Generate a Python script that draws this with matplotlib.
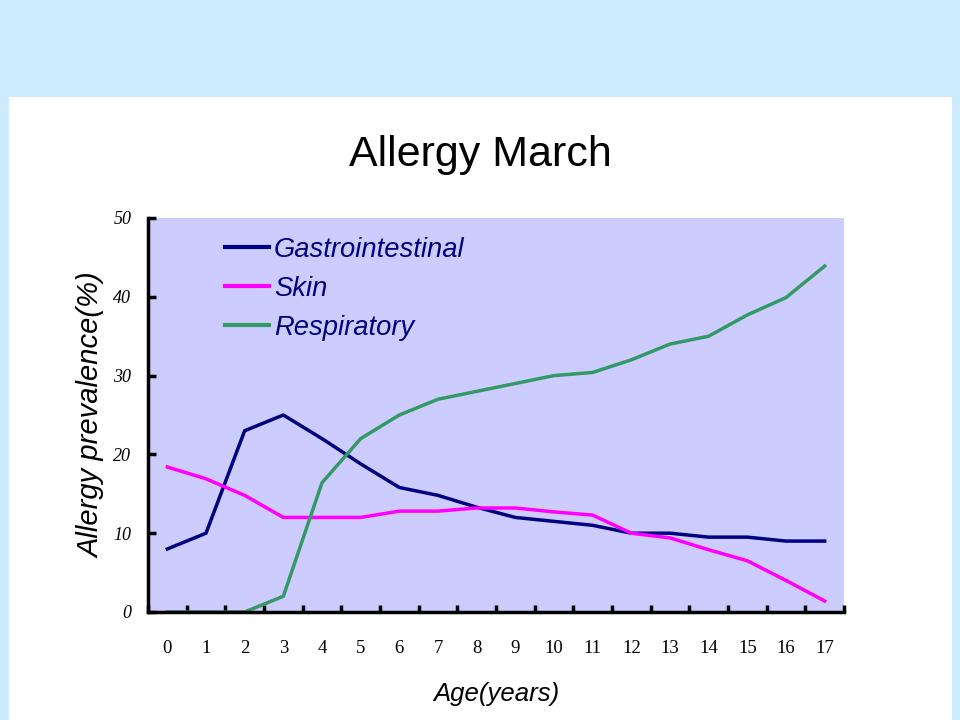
import matplotlib
matplotlib.use("Agg")
import matplotlib.pyplot as plt

ages = list(range(18))
age_labels = [str(a) for a in ages]
gastro = [8.0, 10.0, 23.0, 25.0, 22.0, 18.8, 15.8, 14.8, 13.3, 12.0, 11.5, 11.0, 10.0, 10.0, 9.5, 9.5, 9.0, 9.0]
skin = [18.4, 16.9, 14.8, 12.0, 12.0, 12.0, 12.8, 12.8, 13.2, 13.2, 12.7, 12.3, 10.0, 9.4, 7.9, 6.5, 4.0, 1.4]
resp = [0.0, 0.0, 0.0, 2.0, 16.4, 22.0, 25.0, 27.0, 28.0, 29.0, 30.0, 30.4, 32.0, 34.0, 35.0, 37.7, 39.9, 43.9]
y_ticks = [0, 10, 20, 30, 40, 50]

fig = plt.figure(figsize=(9.6, 7.2), dpi=100)
fig.patch.set_facecolor("#CCEBFF")

bg = fig.add_axes([9/960, 0, 943/960, 623/720])
bg.set_facecolor("white")
bg.set_xticks([])
bg.set_yticks([])
for s in bg.spines.values():
    s.set_visible(False)
bg.set_zorder(0)

ax = fig.add_axes([148/960, 108/720, 696/960, 394/720])
ax.set_zorder(1)
ax.set_facecolor("#CCCCFF")
ax.plot(ages, gastro, color="#000080", lw=2.5, label="Gastrointestinal")
ax.plot(ages, skin, color="#FF00FF", lw=2.5, label="Skin")
ax.plot(ages, resp, color="#339966", lw=2.5, label="Respiratory")

ax.set_xlim(-0.5, 17.5)
ax.set_ylim(0, 50)
for s in ["top", "right"]:
    ax.spines[s].set_visible(False)
for s in ["left", "bottom"]:
    ax.spines[s].set_linewidth(2.5)
    ax.spines[s].set_color("black")

ax.set_xticks([a + 0.5 for a in [-1] + ages])
ax.set_xticklabels([])
ax.set_xticks(ages, minor=True)
ax.set_xticklabels(age_labels, minor=True, fontfamily="Liberation Serif", fontsize=13.5)
ax.tick_params(axis="x", which="major", direction="in", length=5, width=2.5)
ax.tick_params(axis="x", which="minor", length=0, pad=20)

ax.set_yticks(y_ticks)
ax.set_yticklabels([str(v) for v in y_ticks], fontfamily="Liberation Serif", fontstyle="italic", fontsize=13)
ax.tick_params(axis="y", direction="in", length=6, width=2.5, pad=12)

ax.set_ylabel("Allergy prevalence(%)", fontfamily="Liberation Sans", fontstyle="italic", fontsize=21, labelpad=6)
ax.set_xlabel("Age(years)", fontfamily="Liberation Sans", fontstyle="italic", fontsize=18.5, labelpad=18)

fig.text(0.5, 1 - 155/720, "Allergy March", ha="center", va="center",
         fontfamily="Liberation Sans", fontsize=31, zorder=3)

leg = ax.legend(loc="upper left", bbox_to_anchor=(0.075, 1.015), frameon=False,
                prop={"family": "Liberation Sans", "style": "italic", "size": 19.7},
                handlelength=1.6, handletextpad=0.2, labelspacing=0.48)
for t in leg.get_texts():
    t.set_color("#000080")
for l in leg.get_lines():
    l.set_linewidth(3)

fig.savefig("out.png", dpi=100, facecolor=fig.get_facecolor())
